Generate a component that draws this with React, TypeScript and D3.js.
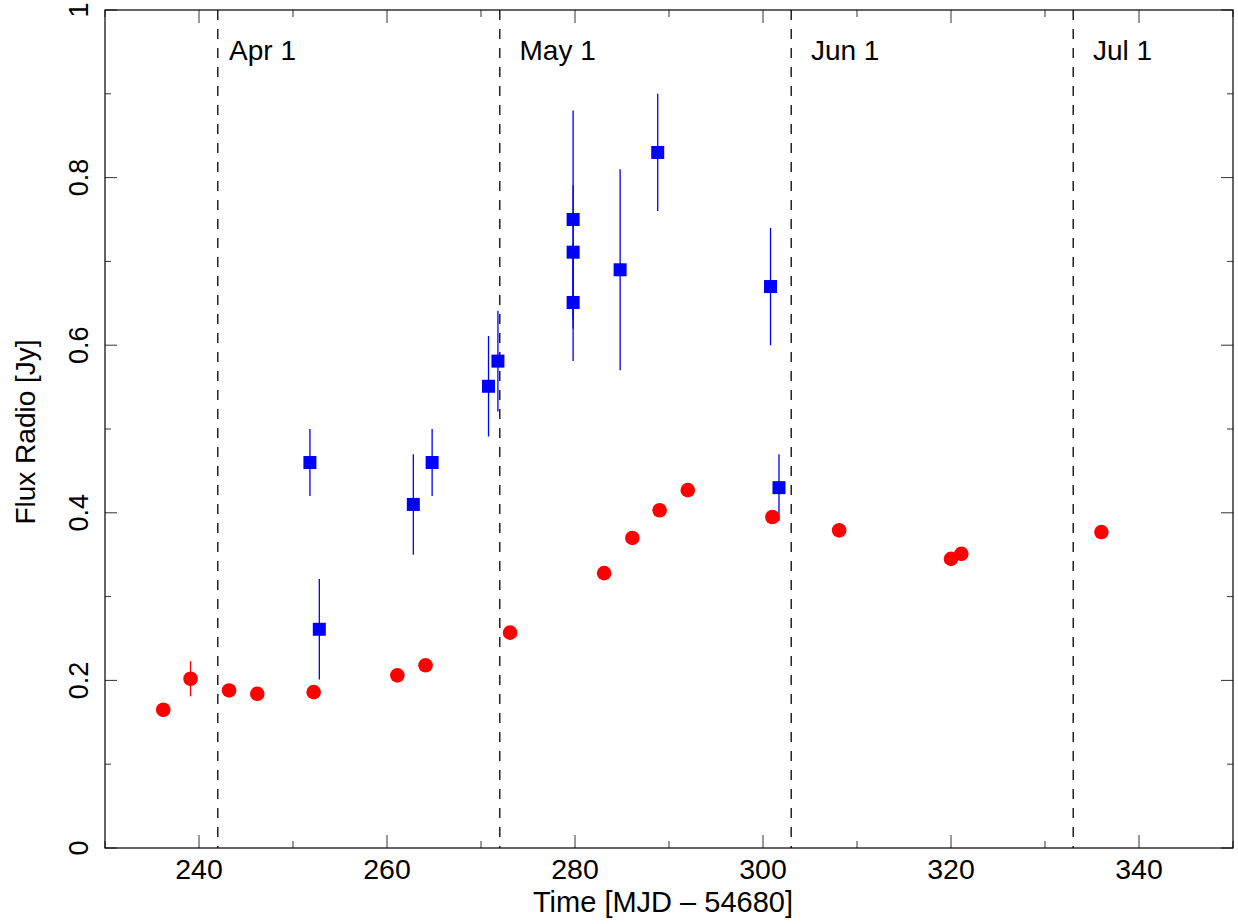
import React, { useEffect, useRef } from "react";
import * as d3 from "d3";

// red circles (radio flux, one band)
const redT = [236.2, 239.1, 243.2, 246.2, 252.2, 261.1, 264.1, 273.1, 283.1, 286.1, 289.0, 292.0, 301.0, 308.1, 320.0, 321.1, 336.0];
const redF = [0.165, 0.202, 0.188, 0.184, 0.186, 0.206, 0.218, 0.257, 0.328, 0.370, 0.403, 0.427, 0.395, 0.379, 0.345, 0.351, 0.377];
const redE = [0.005, 0.021, 0.005, 0.005, 0.005, 0.005, 0.005, 0.005, 0.005, 0.005, 0.005, 0.005, 0.005, 0.005, 0.005, 0.005, 0.005];

// blue squares (radio flux, other band)
const blueT = [251.8, 252.8, 262.8, 264.8, 270.8, 271.8, 279.8, 279.8, 279.8, 284.8, 288.8, 300.8, 301.7];
const blueF = [0.46, 0.261, 0.41, 0.46, 0.551, 0.581, 0.75, 0.711, 0.651, 0.69, 0.83, 0.67, 0.43];
const blueE = [0.04, 0.06, 0.06, 0.04, 0.06, 0.06, 0.13, 0.08, 0.07, 0.12, 0.07, 0.07, 0.04];

// month boundaries
const monthT = [242, 272, 303, 333];
const monthLabel = ["Apr 1", "May 1", "Jun 1", "Jul 1"];
const monthLabelT = [243.2, 274.1, 305.1, 335.1];

const xMajor = [240, 260, 280, 300, 320, 340];
const xMinor = [230, 250, 270, 290, 310, 330, 350];
const yMajor = [0, 0.2, 0.4, 0.6, 0.8, 1];
const yMinor = [0.1, 0.3, 0.5, 0.7, 0.9];

const W = 1238;
const H = 924;
const margin = { top: 10, right: 5, bottom: 76, left: 105 };
const font = "'Liberation Sans', Arial, Helvetica, sans-serif";

const App = () => {
    const svgRef = useRef<SVGSVGElement>(null);

    useEffect(() => {
        const x0 = margin.left;
        const x1 = W - margin.right;
        const y0 = H - margin.bottom;
        const y1 = margin.top;

        const x = d3.scaleLinear().domain([230, 350]).range([x0, x1]);
        const y = d3.scaleLinear().domain([0, 1]).range([y0, y1]);

        const svg = d3.select(svgRef.current);
        svg.selectAll("*").remove();

        // dashed month lines
        svg.append("g")
            .selectAll("line")
            .data(monthT)
            .enter()
            .append("line")
            .attr("x1", (d) => x(d))
            .attr("x2", (d) => x(d))
            .attr("y1", y1)
            .attr("y2", y0)
            .attr("stroke", "#000")
            .attr("stroke-width", 1.3)
            .attr("stroke-dasharray", "10,9");

        svg.append("g")
            .selectAll("text")
            .data(monthLabel)
            .enter()
            .append("text")
            .attr("x", (d, i) => x(monthLabelT[i]))
            .attr("y", 60)
            .attr("font-family", font)
            .attr("font-size", 28)
            .text((d) => d);

        // ticks (inward, all four sides)
        const ticks = svg.append("g").attr("stroke", "#333").attr("stroke-width", 1);
        xMajor.forEach((t) => {
            ticks.append("line").attr("x1", x(t)).attr("x2", x(t)).attr("y1", y0).attr("y2", y0 - 13);
            ticks.append("line").attr("x1", x(t)).attr("x2", x(t)).attr("y1", y1).attr("y2", y1 + 13);
        });
        xMinor.forEach((t) => {
            ticks.append("line").attr("x1", x(t)).attr("x2", x(t)).attr("y1", y0).attr("y2", y0 - 7);
            ticks.append("line").attr("x1", x(t)).attr("x2", x(t)).attr("y1", y1).attr("y2", y1 + 7);
        });
        yMajor.forEach((t) => {
            ticks.append("line").attr("x1", x0).attr("x2", x0 + 12).attr("y1", y(t)).attr("y2", y(t));
            ticks.append("line").attr("x1", x1).attr("x2", x1 - 12).attr("y1", y(t)).attr("y2", y(t));
        });
        yMinor.forEach((t) => {
            ticks.append("line").attr("x1", x0).attr("x2", x0 + 6).attr("y1", y(t)).attr("y2", y(t));
            ticks.append("line").attr("x1", x1).attr("x2", x1 - 6).attr("y1", y(t)).attr("y2", y(t));
        });

        // frame
        svg.append("rect")
            .attr("x", x0)
            .attr("y", y1)
            .attr("width", x1 - x0)
            .attr("height", y0 - y1)
            .attr("fill", "none")
            .attr("stroke", "#000")
            .attr("stroke-width", 1.2);

        // tick labels
        svg.append("g")
            .selectAll("text")
            .data(xMajor)
            .enter()
            .append("text")
            .attr("x", (d) => x(d))
            .attr("y", 879)
            .attr("text-anchor", "middle")
            .attr("font-family", font)
            .attr("font-size", 28.5)
            .text((d) => d);

        svg.append("g")
            .selectAll("text")
            .data(yMajor)
            .enter()
            .append("text")
            .attr("transform", (d) => `translate(88,${y(d)}) rotate(-90)`)
            .attr("text-anchor", "middle")
            .attr("font-family", font)
            .attr("font-size", 27)
            .text((d) => String(d));

        // axis titles
        svg.append("text")
            .attr("x", 663)
            .attr("y", 912)
            .attr("text-anchor", "middle")
            .attr("font-family", font)
            .attr("font-size", 29)
            .text("Time [MJD \u2013 54680]");

        svg.append("text")
            .attr("transform", `translate(35,${(y0 + y1) / 2 + 3}) rotate(-90)`)
            .attr("text-anchor", "middle")
            .attr("font-family", font)
            .attr("font-size", 28)
            .text("Flux Radio [Jy]");

        // blue error bars + squares
        const blue = svg.append("g");
        blue.selectAll("line")
            .data(blueT)
            .enter()
            .append("line")
            .attr("x1", (d) => x(d))
            .attr("x2", (d) => x(d))
            .attr("y1", (d, i) => y(blueF[i] + blueE[i]))
            .attr("y2", (d, i) => y(blueF[i] - blueE[i]))
            .attr("stroke", "#0000ff")
            .attr("stroke-width", 1.3);
        const s = 13;
        blue.selectAll("rect")
            .data(blueT)
            .enter()
            .append("rect")
            .attr("x", (d) => x(d) - s / 2)
            .attr("y", (d, i) => y(blueF[i]) - s / 2)
            .attr("width", s)
            .attr("height", s)
            .attr("fill", "#0000ff");

        // red error bars + circles
        const red = svg.append("g");
        red.selectAll("line")
            .data(redT)
            .enter()
            .append("line")
            .attr("x1", (d) => x(d))
            .attr("x2", (d) => x(d))
            .attr("y1", (d, i) => y(redF[i] + redE[i]))
            .attr("y2", (d, i) => y(redF[i] - redE[i]))
            .attr("stroke", "#ff0000")
            .attr("stroke-width", 1.3);
        red.selectAll("circle")
            .data(redT)
            .enter()
            .append("circle")
            .attr("cx", (d) => x(d))
            .attr("cy", (d, i) => y(redF[i]))
            .attr("r", 7.3)
            .attr("fill", "#ff0000");
    }, []);

    return (
        <svg
            ref={svgRef}
            width={W}
            height={H}
            style={{ position: "absolute", left: 0, top: 0, background: "#fff" }}
        ></svg>
    );
};

export default App;
